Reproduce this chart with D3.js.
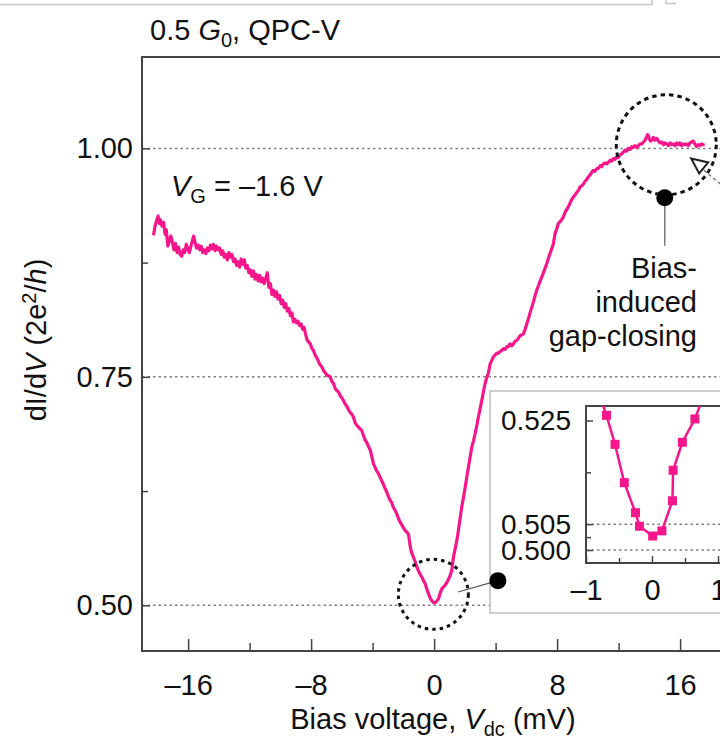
<!DOCTYPE html>
<html>
<head>
<meta charset="utf-8">
<script src="https://cdn.jsdelivr.net/npm/d3@7"></script>
<style>
  body { margin: 0; background: #fff; }
  text { font-family: "Liberation Sans", Arial, Helvetica, sans-serif; fill: #111; }
</style>
</head>
<body>
<svg id="chart" width="720" height="741"></svg>
<script>
// Differential conductance dI/dV (units of 2e^2/h) versus DC bias (mV)
const sweep = [
  [-18.25,0.905],[-18.15,0.915],[-18.05,0.921],[-17.95,0.926],[-17.88,0.918],[-17.8,0.922],[-17.7,0.915],[-17.6,0.919],
  [-17.5,0.906],[-17.42,0.911],[-17.32,0.893],[-17.22,0.899],[-17.12,0.904],[-17.02,0.897],[-16.92,0.889],[-16.82,0.896],
  [-16.72,0.886],[-16.62,0.892],[-16.52,0.884],[-16.42,0.882],[-16.32,0.889],[-16.22,0.886],[-16.12,0.895],[-16.02,0.890],
  [-15.92,0.886],[-15.82,0.893],[-15.72,0.899],[-15.64,0.904],[-15.55,0.897],[-15.45,0.891],[-15.35,0.894],[-15.25,0.889],
  [-15.15,0.893],[-15.05,0.886],[-14.95,0.889],[-14.85,0.885],[-14.75,0.891],[-14.65,0.888],[-14.55,0.894],[-14.45,0.890],
  [-14.35,0.895],[-14.25,0.888],[-14.15,0.893],[-14.05,0.889],[-13.95,0.891],[-13.85,0.884],[-13.75,0.888],[-13.65,0.881],
  [-13.55,0.884],[-13.45,0.878],[-13.35,0.886],[-13.25,0.881],[-13.15,0.884],[-13.05,0.876],[-12.95,0.879],[-12.85,0.872],
  [-12.75,0.876],[-12.65,0.870],[-12.55,0.879],[-12.45,0.873],[-12.35,0.878],[-12.25,0.869],[-12.15,0.872],[-12.05,0.864],
  [-11.95,0.867],[-11.85,0.860],[-11.75,0.866],[-11.65,0.857],[-11.55,0.862],[-11.45,0.855],[-11.35,0.861],[-11.25,0.854],
  [-11.15,0.858],[-11.05,0.852],[-10.95,0.858],[-10.85,0.864],[-10.75,0.848],[-10.65,0.852],[-10.55,0.840],[-10.45,0.845],
  [-10.35,0.838],[-10.25,0.843],[-10.15,0.835],[-10.05,0.839],[-9.95,0.830],[-9.85,0.834],[-9.75,0.826],[-9.65,0.830],
  [-9.55,0.822],[-9.45,0.825],[-9.35,0.817],[-9.25,0.820],[-9.15,0.810],[-9.05,0.813],[-8.95,0.809],[-8.85,0.811],
  [-8.75,0.806],[-8.65,0.808],[-8.55,0.802],[-8.45,0.804],[-8.35,0.796],[-8.25,0.790],[-8.15,0.788],[-8.05,0.786],
  [-7.95,0.781],[-7.85,0.779],[-7.74,0.774],[-7.6,0.770],[-7.5,0.766],[-7.41,0.763],[-7.3,0.761],[-7.2,0.757],
  [-7.1,0.755],[-6.98,0.752],[-6.86,0.751],[-6.76,0.750],[-6.65,0.745],[-6.55,0.743],[-6.45,0.738],[-6.33,0.735],
  [-6.2,0.733],[-6.1,0.729],[-5.99,0.727],[-5.9,0.724],[-5.78,0.720],[-5.68,0.718],[-5.57,0.714],[-5.46,0.711],
  [-5.35,0.709],[-5.25,0.706],[-5.14,0.700],[-5.03,0.697],[-4.92,0.695],[-4.81,0.693],[-4.7,0.691],[-4.6,0.686],
  [-4.49,0.681],[-4.38,0.678],[-4.27,0.674],[-4.16,0.670],[-4.05,0.663],[-3.95,0.655],[-3.84,0.651],[-3.73,0.647],
  [-3.62,0.644],[-3.51,0.640],[-3.4,0.636],[-3.29,0.632],[-3.19,0.628],[-3.08,0.624],[-2.97,0.619],[-2.86,0.615],
  [-2.75,0.612],[-2.65,0.607],[-2.54,0.604],[-2.43,0.600],[-2.32,0.595],[-2.21,0.591],[-2.1,0.588],[-2.0,0.585],
  [-1.89,0.582],[-1.78,0.580],[-1.67,0.578],[-1.6,0.570],[-1.53,0.562],[-1.45,0.557],[-1.35,0.553],[-1.24,0.548],
  [-1.13,0.542],[-1.02,0.538],[-0.91,0.534],[-0.8,0.531],[-0.69,0.527],[-0.59,0.524],[-0.48,0.518],[-0.37,0.513],
  [-0.26,0.508],[-0.15,0.505],[-0.05,0.503],[0.05,0.503],[0.15,0.504],[0.28,0.507],[0.39,0.513],[0.5,0.518],
  [0.6,0.520],[0.72,0.522],[0.83,0.525],[0.95,0.529],[1.05,0.533],[1.15,0.538],[1.26,0.553],[1.37,0.562],
  [1.48,0.571],[1.58,0.582],[1.69,0.595],[1.8,0.608],[1.91,0.618],[2.02,0.629],[2.12,0.640],[2.23,0.651],
  [2.34,0.662],[2.45,0.673],[2.56,0.680],[2.67,0.688],[2.78,0.697],[2.88,0.706],[2.99,0.715],[3.1,0.724],
  [3.21,0.734],[3.32,0.743],[3.42,0.749],[3.53,0.754],[3.64,0.764],[3.75,0.768],[3.86,0.772],[3.97,0.774],
  [4.08,0.776],[4.19,0.776],[4.3,0.778],[4.4,0.779],[4.51,0.781],[4.62,0.780],[4.73,0.783],[4.83,0.783],
  [4.94,0.786],[5.05,0.784],[5.16,0.786],[5.27,0.789],[5.38,0.790],[5.48,0.792],[5.59,0.795],[5.7,0.796],
  [5.81,0.797],[5.92,0.802],[6.03,0.808],[6.14,0.814],[6.24,0.820],[6.35,0.826],[6.46,0.832],[6.57,0.839],
  [6.68,0.845],[6.79,0.850],[6.9,0.855],[7.0,0.859],[7.11,0.864],[7.22,0.869],[7.33,0.874],[7.44,0.880],
  [7.54,0.885],[7.65,0.890],[7.76,0.896],[7.87,0.907],[7.98,0.912],[8.08,0.918],[8.2,0.920],[8.3,0.922],
  [8.41,0.925],[8.52,0.930],[8.62,0.933],[8.73,0.936],[8.84,0.940],[8.95,0.944],[9.06,0.947],[9.17,0.949],
  [9.28,0.952],[9.39,0.954],[9.5,0.958],[9.6,0.959],[9.71,0.961],[9.82,0.964],[9.93,0.966],[10.04,0.969],
  [10.15,0.971],[10.26,0.974],[10.36,0.976],[10.47,0.975],[10.58,0.978],[10.69,0.978],[10.8,0.981],[10.9,0.980],
  [11.01,0.983],[11.12,0.984],[11.23,0.983],[11.34,0.985],[11.45,0.987],[11.55,0.986],[11.66,0.989],[11.77,0.988],
  [11.88,0.991],[11.99,0.990],[12.1,0.993],[12.2,0.994],[12.31,0.996],[12.42,0.998],[12.53,0.997],[12.64,1.000],
  [12.75,0.999],[12.86,1.002],[12.96,1.001],[13.07,1.003],[13.18,1.001],[13.29,1.003],[13.4,1.005],[13.51,1.005],
  [13.62,1.007],[13.72,1.009],[13.8,1.012],[13.88,1.015],[13.94,1.014],[14.0,1.010],[14.08,1.008],[14.16,1.009],
  [14.26,1.012],[14.37,1.009],[14.48,1.011],[14.59,1.008],[14.7,1.006],[14.81,1.007],[14.92,1.004],[15.02,1.006],
  [15.13,1.005],[15.24,1.003],[15.35,1.006],[15.46,1.004],[15.56,1.005],[15.67,1.003],[15.78,1.006],[15.89,1.004],
  [15.99,1.006],[16.1,1.003],[16.21,1.005],[16.32,1.004],[16.42,1.005],[16.53,1.003],[16.64,1.006],[16.75,1.007],
  [16.85,1.008],[16.96,1.005],[17.07,1.002],[17.17,1.004],[17.28,1.003],[17.39,1.005],[17.5,1.004],[17.6,1.004]
];

// Zoom near zero bias (inset), individual measured points
const insetBias = [-0.80, -0.69, -0.56, -0.42, -0.25, -0.19, 0.01, 0.15, 0.31, 0.32, 0.46, 0.65, 0.79];
const insetCond = [0.5300, 0.5260, 0.5204, 0.5130, 0.5072, 0.5046, 0.5027, 0.5037, 0.5095, 0.5154, 0.5208, 0.5253, 0.5300];

// Axis ticks
const xTicks = [-16, -8, 0, 8, 16];
const xMinorTicks = [-12, -4, 4, 12];
const yTicks = [0.50, 0.75, 1.00];
const yMinorTicks = [0.625, 0.875];
const insetXTicks = [-1, 0, 1];
const insetXMinorTicks = [-0.5, 0.5];
const insetYTicks = [0.500, 0.505, 0.525];
const insetYMinorTicks = [0.5025, 0.515];
const insetGrid = [0.500, 0.505];

// Highlighted regions: [bias, conductance] of circle centers and marker dots
const circleZero = [-0.05, 0.512];
const circleTop = [15.1, 1.004];
const dotZero = [4.15, 0.527];
const dotTop = [15.0, 0.946];

const pink = "#f5168c";
const axisColor = "#444";
const fs = "29px";
const fsSub = "20px";
const fmt = d => (d < 0 ? "\u2013" + Math.abs(d) : String(d));

const svg = d3.select("#chart");

// thin rule along the top edge
svg.append("path")
  .attr("d", "M0,4.5H652V0")
  .attr("fill", "none").attr("stroke", "#c4c4c4").attr("stroke-width", 1.5);
svg.append("path")
  .attr("d", "M666,0V3.5H676")
  .attr("fill", "none").attr("stroke", "#c4c4c4").attr("stroke-width", 1.5);

// Main scales
const x = d3.scaleLinear().domain([-19, 20]).range([142, 741.6]);
const y = d3.scaleLinear().domain([0.45, 1.10]).range([651, 57]);

// Title
const title = svg.append("text").attr("x", 150).attr("y", 40).style("font-size", fs);
title.append("tspan").text("0.5 ");
title.append("tspan").style("font-style", "italic").text("G");
title.append("tspan").attr("dy", 7).style("font-size", fsSub).text("0");
title.append("tspan").attr("dy", -7).text(", QPC-V");

// Dotted reference lines
svg.append("g").selectAll("line").data(yTicks).join("line")
  .attr("x1", x.range()[0]).attr("x2", 720)
  .attr("y1", d => y(d)).attr("y2", d => y(d))
  .attr("stroke", "#808080").attr("stroke-width", 1.5).attr("stroke-dasharray", "2.5,3");

// Frame
svg.append("rect")
  .attr("x", x.range()[0]).attr("y", y.range()[1])
  .attr("width", x.range()[1] - x.range()[0]).attr("height", y.range()[0] - y.range()[1])
  .attr("fill", "none").attr("stroke", axisColor).attr("stroke-width", 2);

// Bottom axis
const gx = svg.append("g").attr("transform", `translate(0,${y.range()[0]})`)
  .call(d3.axisBottom(x).tickValues(xTicks).tickSize(-12).tickPadding(23).tickFormat(fmt));
gx.select(".domain").remove();
gx.selectAll(".tick line").attr("stroke", axisColor).attr("stroke-width", 1.5);
gx.selectAll(".tick text").style("font-size", fs).attr("fill", "#111");
const gxm = svg.append("g").attr("transform", `translate(0,${y.range()[0]})`)
  .call(d3.axisBottom(x).tickValues(xMinorTicks).tickSize(-8).tickFormat(""));
gxm.select(".domain").remove();
gxm.selectAll(".tick line").attr("stroke", axisColor).attr("stroke-width", 1.5);

// Left axis
const gy = svg.append("g").attr("transform", `translate(${x.range()[0]},0)`)
  .call(d3.axisLeft(y).tickValues(yTicks).tickSize(-8).tickPadding(9).tickFormat(d3.format(".2f")));
gy.select(".domain").remove();
gy.selectAll(".tick line").attr("stroke", axisColor).attr("stroke-width", 1.5);
gy.selectAll(".tick text").style("font-size", fs).attr("fill", "#111");
const gym = svg.append("g").attr("transform", `translate(${x.range()[0]},0)`)
  .call(d3.axisLeft(y).tickValues(yMinorTicks).tickSize(-6).tickFormat(""));
gym.select(".domain").remove();
gym.selectAll(".tick line").attr("stroke", axisColor).attr("stroke-width", 1.5);

// Axis titles
const xl = svg.append("text").attr("x", 433).attr("y", 729)
  .attr("text-anchor", "middle").style("font-size", fs);
xl.append("tspan").text("Bias voltage, ");
xl.append("tspan").style("font-style", "italic").text("V");
xl.append("tspan").attr("dy", 7).style("font-size", fsSub).text("dc");
xl.append("tspan").attr("dy", -7).text(" (mV)");

const yl = svg.append("text")
  .attr("transform", `translate(46,340) rotate(-90)`)
  .attr("text-anchor", "middle").style("font-size", fs);
yl.append("tspan").text("dI/d");
yl.append("tspan").style("font-style", "italic").text("V");
yl.append("tspan").text(" (2e");
yl.append("tspan").attr("dy", -10).style("font-size", fsSub).text("2");
yl.append("tspan").attr("dy", 10).text("/");
yl.append("tspan").style("font-style", "italic").text("h");
yl.append("tspan").text(")");

// Gate voltage label
const vg = svg.append("text").attr("x", 171).attr("y", 196).style("font-size", fs);
vg.append("tspan").style("font-style", "italic").text("V");
vg.append("tspan").attr("dy", 7).style("font-size", fsSub).text("G");
vg.append("tspan").attr("dy", -7).text(" = \u20131.6 V");

// Conductance trace
const line = d3.line().x(d => x(d[0])).y(d => y(d[1]));
svg.append("path").datum(sweep)
  .attr("d", line)
  .attr("fill", "none").attr("stroke", pink).attr("stroke-width", 3.2)
  .attr("stroke-linejoin", "round");

// Dashed highlight circles
svg.append("circle")
  .attr("cx", x(circleZero[0])).attr("cy", y(circleZero[1])).attr("r", 35)
  .attr("fill", "none").attr("stroke", "#111").attr("stroke-width", 3).attr("stroke-dasharray", "3.5,4");
svg.append("circle")
  .attr("cx", x(circleTop[0])).attr("cy", y(circleTop[1])).attr("r", 50)
  .attr("fill", "none").attr("stroke", "#111").attr("stroke-width", 3).attr("stroke-dasharray", "4.5,4");

// Leader line + dot for the top-right feature
svg.append("line")
  .attr("x1", x(dotTop[0])).attr("x2", x(dotTop[0]))
  .attr("y1", y(dotTop[1])).attr("y2", y(dotTop[1]) + 48)
  .attr("stroke", "#777").attr("stroke-width", 1.5);
svg.append("circle").attr("cx", x(dotTop[0])).attr("cy", y(dotTop[1])).attr("r", 8.5).attr("fill", "#000");

// Open arrowhead coming in from the right edge
{
  const tipX = x(16.72), tipY = y(0.989);
  svg.append("path")
    .attr("d", `M${tipX},${tipY} L${tipX + 17},${tipY + 4} L${tipX + 8},${tipY + 15} Z`)
    .attr("fill", "#fff").attr("stroke", "#222").attr("stroke-width", 2).attr("stroke-linejoin", "miter");
  svg.append("line")
    .attr("x1", tipX + 13).attr("y1", tipY + 12).attr("x2", tipX + 32).attr("y2", tipY + 28)
    .attr("stroke", "#777").attr("stroke-width", 1.5).attr("stroke-dasharray", "3,3");
}

// Annotation text
const ann = svg.append("text").attr("text-anchor", "end").style("font-size", fs);
["Bias-", "induced", "gap-closing"].forEach((s, i) => {
  ann.append("tspan").attr("x", 697).attr("y", 278 + i * 34).text(s);
});

// Inset box
svg.append("rect").attr("x", 490).attr("y", 391).attr("width", 260).attr("height", 222)
  .attr("fill", "#fff").attr("stroke", "#bdbdbd").attr("stroke-width", 1.5);

// Leader line + dot for the zero-bias feature
svg.append("line")
  .attr("x1", x(dotZero[0])).attr("y1", y(dotZero[1]))
  .attr("x2", 458).attr("y2", 592)
  .attr("stroke", "#555").attr("stroke-width", 1.2);
svg.append("circle").attr("cx", x(dotZero[0])).attr("cy", y(dotZero[1])).attr("r", 8.5).attr("fill", "#000");

// Inset scales
const xi = d3.scaleLinear().domain([-1, 1.1]).range([586, 724.6]);
const yi = d3.scaleLinear().domain([0.4975, 0.5278]).range([563, 406]);

svg.append("defs").append("clipPath").attr("id", "insetClip")
  .append("rect").attr("x", 586).attr("y", 406).attr("width", 140).attr("height", 157);

svg.append("g").selectAll("line").data(insetGrid).join("line")
  .attr("x1", 586).attr("x2", 720)
  .attr("y1", d => yi(d)).attr("y2", d => yi(d))
  .attr("stroke", "#808080").attr("stroke-width", 1.5).attr("stroke-dasharray", "2.5,3");

svg.append("rect").attr("x", 586).attr("y", 406).attr("width", 138.6).attr("height", 157)
  .attr("fill", "none").attr("stroke", axisColor).attr("stroke-width", 2);

const gxi = svg.append("g").attr("transform", "translate(0,563)")
  .call(d3.axisBottom(xi).tickValues(insetXTicks).tickSize(-7).tickPadding(16).tickFormat(fmt));
gxi.select(".domain").remove();
gxi.selectAll(".tick line").attr("stroke", axisColor).attr("stroke-width", 1.5);
gxi.selectAll(".tick text").style("font-size", fs).attr("fill", "#111");
const gxim = svg.append("g").attr("transform", "translate(0,563)")
  .call(d3.axisBottom(xi).tickValues(insetXMinorTicks).tickSize(-5).tickFormat(""));
gxim.select(".domain").remove();
gxim.selectAll(".tick line").attr("stroke", axisColor).attr("stroke-width", 1.5);

const gyi = svg.append("g").attr("transform", "translate(586,0)")
  .call(d3.axisLeft(yi).tickValues(insetYTicks).tickSize(-7).tickPadding(15).tickFormat(d3.format(".3f")));
gyi.select(".domain").remove();
gyi.selectAll(".tick line").attr("stroke", axisColor).attr("stroke-width", 1.5);
gyi.selectAll(".tick text").style("font-size", "28px").attr("fill", "#111");
const gyim = svg.append("g").attr("transform", "translate(586,0)")
  .call(d3.axisLeft(yi).tickValues(insetYMinorTicks).tickSize(-5).tickFormat(""));
gyim.select(".domain").remove();
gyim.selectAll(".tick line").attr("stroke", axisColor).attr("stroke-width", 1.5);

const insetPts = insetBias.map((b, i) => [b, insetCond[i]]);
const gi = svg.append("g").attr("clip-path", "url(#insetClip)");
gi.append("path").datum(insetPts)
  .attr("d", d3.line().x(d => xi(d[0])).y(d => yi(d[1])))
  .attr("fill", "none").attr("stroke", pink).attr("stroke-width", 2.5);
gi.selectAll("rect.pt").data(insetPts).join("rect").attr("class", "pt")
  .attr("x", d => xi(d[0]) - 4.5).attr("y", d => yi(d[1]) - 4.5)
  .attr("width", 9).attr("height", 9).attr("fill", pink);
</script>
</body>
</html>
